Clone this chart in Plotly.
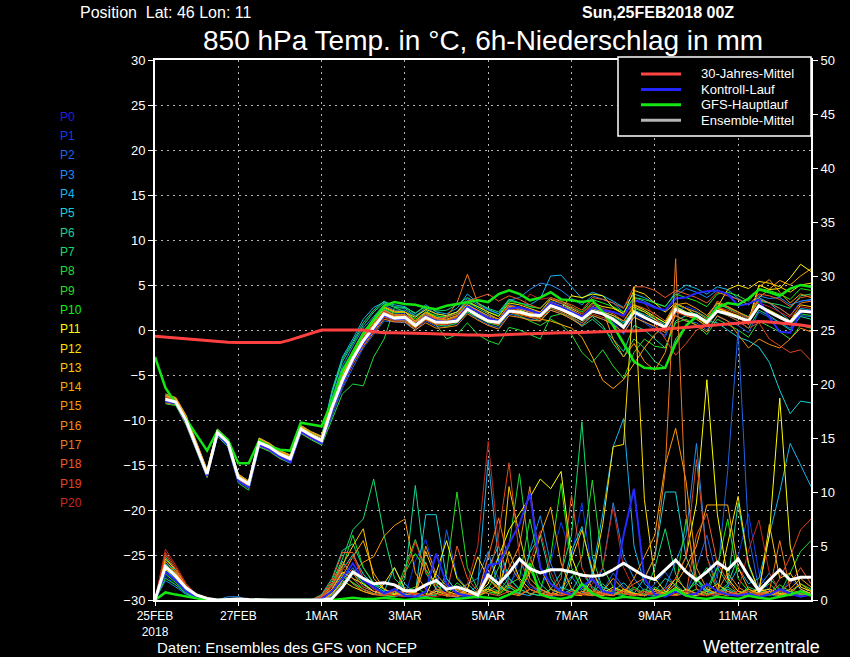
import plotly.graph_objects as go

# 6-hourly forecast steps from 25FEB2018 00Z (hours)
HOURS = list(range(0, 379, 6))

DATE_TICKS = [0, 48, 96, 144, 192, 240, 288, 336]
DATE_LABELS = ["25FEB<br>2018", "27FEB", "1MAR", "3MAR", "5MAR", "7MAR", "9MAR", "11MAR"]

### 850 hPa temperature (degC)

# 30-year climate mean, from +0h
CLIMATE_T = [-0.7, -0.8, -0.9, -1.0, -1.1, -1.2, -1.3, -1.35, -1.4, -1.4, -1.4, -1.4, -1.4, -1.1, -0.75, -0.35,
             0.0, 0.0, 0.0, 0.0, 0.0, -0.2, -0.3, -0.3, -0.3, -0.35, -0.4, -0.45, -0.5, -0.5, -0.55, -0.55,
             -0.6, -0.55, -0.5, -0.45, -0.4, -0.4, -0.35, -0.3, -0.3, -0.25, -0.2, -0.2, -0.15, -0.1, -0.1, -0.05,
             0.0, 0.1, 0.2, 0.3, 0.4, 0.5, 0.6, 0.7, 0.8, 0.9, 0.95, 0.9, 0.8, 0.7, 0.55, 0.4]

# operational GFS run, from +0h
GFS_T = [-3.0, -6.4, -8.2, -9.9, -11.6, -13.4, -11.2, -12.2, -14.8, -14.8, -12.3, -12.9, -13.3, -13.4, -10.3, -10.5,
         -10.7, -7.9, -4.5, -2.5, -0.4, 1.2, 2.7, 3.1, 2.9, 2.8, 2.5, 2.3, 2.7, 2.9, 3.1, 3.3,
         3.1, 4.0, 4.4, 4.0, 3.3, 3.6, 4.2, 3.4, 3.3, 3.1, 3.3, 2.0, 0.5, -1.5, -3.5, -4.2,
         -4.3, -4.2, -1.5, 0.5, 1.5, 1.0, 2.5, 3.0, 2.8, 3.5, 4.5, 4.2, 3.8, 4.6, 5.0, 4.8]

# ensemble members and mean, from +6h
MEAN_T = [-7.7, -8.0, -10.1, -13.0, -16.0, -11.4, -12.5, -16.4, -17.1, -12.5, -13.0, -13.8, -14.3, -11.0, -11.7, -12.3,
          -8.6, -5.6, -3.2, -1.2, 0.3, 1.8, 1.3,
          1.4, 0.5, 1.4, 0.85, 0.85, 1.0, 2.3, 1.6, 1.0, 0.85,
          2.1, 2.0, 1.7, 1.6, 2.7, 2.3, 1.8, 1.2, 2.1, 1.8,
          1.2, 0.3, 2.0, 1.4, 0.85, 0.3, 2.3, 1.8, 1.6, 0.85,
          2.1, 1.8, 1.4, 1.0, 2.7, 2.0, 1.4, 0.85, 2.1, 2.0]

T_P0 = [-7.9, -8.2, -10.3, -13.2, -16.2, -11.6, -12.8, -16.8, -17.5, -12.8, -13.3, -14.1, -14.7, -11.3, -12.0, -12.6,
        -9.0, -6.0, -3.5, -1.5, 0.0, 1.6, 1.2,
        1.2, 0.6, 1.5, 1.0, 0.9, 1.2, 2.6, 2.0, 1.3, 1.0,
        2.4, 2.5, 2.2, 1.8, 3.0, 2.6, 2.0, 1.5, 2.5, 2.2,
        2.0, 1.6, 3.3, 3.0, 2.5, 2.2, 3.5, 3.6, 4.1, 4.3,
        4.4, 4.0, 2.7, 2.9, 3.4, 1.4, -0.2, -0.3, 2.0, 2.1]
T_P1 = [-7.5, -7.8, -9.9, -12.8, -15.7, -11.2, -12.3, -16.2, -17.0, -12.2, -12.8, -13.6, -14.1, -10.8, -11.5, -12.0,
        -8.3, -5.2, -2.8, -0.8, 0.8, 2.3, 1.8,
        1.8, 0.9, 2.0, 1.5, 1.2, 1.6, 3.0, 2.2, 1.5, 1.0,
        2.8, 2.6, 2.0, 1.7, 3.2, 2.9, 2.3, 1.5, 2.8, 2.4,
        1.0, -0.5, 1.8, 1.0, 0.2, -0.8, 2.0, 2.6, 2.2, 1.3,
        3.0, 2.5, 2.0, 1.2, 3.5, 3.0, 2.4, 1.6, 3.2, 3.3]
T_P2 = [-8.0, -8.1, -10.4, -13.3, -16.3, -11.7, -12.9, -16.7, -17.3, -12.9, -13.4, -14.2, -14.6, -11.4, -12.1, -12.7,
        -9.5, -6.5, -4.2, -2.0, -0.5, 1.0, 0.9,
        0.8, 0.0, 1.0, 0.4, 0.5, 0.7, 2.0, 1.2, 0.6, 0.3,
        1.8, 1.5, 1.2, 1.0, 2.2, 1.8, 1.3, 0.6, 1.6, 1.2,
        0.8, -0.4, 1.5, 0.8, 0.0, -0.6, 1.6, 1.0, 0.8, 0.0,
        1.5, 1.0, 0.5, -0.3, 2.0, 1.4, 0.8, 0.2, 1.6, 1.5]
T_P3 = [-7.4, -7.9, -9.8, -12.7, -15.8, -11.3, -12.4, -16.5, -17.2, -12.6, -13.1, -13.9, -14.4, -11.2, -11.9, -12.4,
        -7.5, -4.0, -1.8, 0.2, 1.5, 2.8, 2.2,
        2.2, 1.5, 2.5, 1.8, 1.6, 2.0, 3.5, 2.8, 2.2, 1.8,
        3.3, 3.6, 4.5, 5.2, 5.0, 4.4, 3.5, 2.8, 3.8, 3.4,
        3.0, 2.0, 3.6, 3.2, 2.6, 2.0, 3.8, 4.6, 4.2, 3.6,
        4.4, 4.0, 3.4, 2.8, 3.8, 3.5, 3.6, 2.8, 3.2, 3.4]
T_P4 = [-7.2, -7.6, -9.6, -12.5, -15.5, -11.0, -12.2, -16.0, -16.8, -12.0, -12.6, -13.4, -13.9, -10.6, -11.3, -11.8,
        -6.7, -3.0, -1.0, 1.2, 2.5, 3.1, 2.8,
        2.6, 1.8, 2.8, 2.0, 1.8, 2.4, 4.0, 3.0, 2.3, 1.8,
        3.4, 3.0, 2.8, 3.5, 6.0, 6.1, 4.8, 3.5, 4.2, 3.8,
        3.2, 2.5, 4.0, 3.6, 3.0, 2.6, 4.2, 5.0, 4.6, 4.0,
        4.8, 4.5, 3.5, 2.8, 3.6, 3.0, 2.0, 1.0, 2.4, 2.2]
T_P5 = [-7.8, -8.0, -10.2, -13.1, -16.1, -11.5, -12.6, -16.6, -17.4, -12.7, -13.2, -14.0, -14.5, -11.1, -11.8, -12.5,
        -8.0, -4.8, -2.5, -0.3, 1.0, 2.3, 1.6,
        1.6, 0.8, 1.8, 1.2, 1.0, 1.4, 2.8, 2.0, 1.4, 1.0,
        2.5, 2.3, 2.0, 1.9, 3.0, 2.5, 2.1, 1.5, 2.4, 2.0,
        1.6, 0.8, 2.2, 1.7, 1.2, 0.6, 2.6, 2.0, 1.8, 1.0,
        0.8, 0.0, -0.8, -1.2, -1.9, -3.6, -6.7, -9.3, -7.9, -8.1]
T_P6 = [-7.6, -7.9, -10.0, -12.9, -15.9, -11.3, -12.4, -16.3, -17.0, -12.4, -12.9, -13.7, -14.2, -10.9, -11.6, -12.2,
        -7.0, -3.5, -1.5, 0.5, 2.0, 3.0, 2.5,
        2.4, 1.6, 2.2, 1.4, 1.5, 2.0, 3.2, 2.4, 1.8, 1.2,
        2.6, 2.2, 1.5, 1.0, 2.4, 2.0, 1.4, 0.4, 1.2, 0.2,
        -1.0, -2.4, 0.5, 0.0, -1.0, -2.0, 1.0, 1.6, 1.2, 0.4,
        2.0, 1.6, 1.0, 0.2, 2.2, 1.6, 0.8, 0.0, 1.5, 1.2]
T_P7 = [-7.3, -7.7, -9.7, -12.6, -15.6, -11.1, -12.3, -16.1, -16.9, -12.1, -12.7, -13.5, -14.0, -10.7, -11.4, -11.9,
        -6.9, -3.2, -1.3, 0.8, 2.2, 3.2, 2.6,
        2.5, 1.9, 2.6, 2.1, 2.2, 2.8, 3.6, 3.0, 2.4, 2.0,
        3.4, 3.0, 2.6, 2.4, 3.6, 3.0, 2.2, 1.0, 1.5, 0.5,
        -1.5, -3.0, -1.0, -2.0, -3.5, -4.2, -1.0, 0.5, 1.5, 1.0,
        2.8, 2.5, 2.0, 1.5, 3.2, 3.0, 2.8, 2.4, 3.8, 4.0]
T_P8 = [-8.2, -8.4, -10.6, -13.4, -16.4, -11.8, -13.0, -17.0, -17.8, -13.0, -13.5, -14.3, -14.8, -11.5, -12.2, -12.8,
        -10.0, -7.1, -6.0, -6.2, -3.0, -1.0, 2.5,
        2.0, 1.0, 1.5, 0.6, -1.0, -0.5, 0.8, -0.5, -1.2, -1.6,
        0.3, 0.0, -0.5, -1.0, 1.5, 1.8, 1.5, 0.8, 2.0, 1.8,
        1.4, 0.6, 2.4, 2.0, 1.4, 0.8, 2.8, 2.4, 2.0, 1.4,
        3.0, 2.4, 1.8, 1.2, 2.8, 2.2, 1.6, 0.6, 1.8, 1.6]
T_P9 = [-7.7, -8.0, -10.1, -13.0, -16.0, -11.4, -12.6, -16.5, -17.2, -12.6, -13.1, -13.9, -14.4, -11.1, -11.8, -12.4,
        -8.8, -5.8, -3.4, -1.4, 0.2, 1.7, 1.2,
        1.0, 0.2, 1.2, 0.6, 0.4, 0.8, 2.0, 1.4, 0.8, 0.5,
        2.0, 1.6, 1.0, 0.5, 1.2, 0.6, -0.5, -2.5, -3.6, -2.2,
        -4.0, -5.4, -2.5, -1.0, -1.8, -2.0, 0.8, 1.2, 0.5, -0.5,
        1.2, 0.6, 0.0, -0.8, 1.0, 0.4, -0.2, -1.0, 0.5, 0.2]
T_P10 = [-7.5, -7.8, -9.9, -12.8, -15.8, -11.2, -12.4, -16.2, -17.0, -12.3, -12.9, -13.7, -14.2, -10.8, -11.5, -12.1,
         -8.2, -5.0, -2.7, -0.6, 0.9, 2.4, 1.9,
         2.0, 1.2, 2.0, 1.6, 1.4, 1.8, 3.0, 2.6, 2.0, 1.6,
         3.2, 3.0, 2.6, 2.4, 3.6, 3.2, 2.6, 2.0, 3.4, 3.0,
         2.6, 2.0, 3.6, 3.4, 3.0, 2.6, 4.0, 3.6, 3.2, 2.6,
         4.0, 4.2, 3.8, 3.2, 4.6, 4.4, 4.0, 3.4, 4.6, 4.4]
T_P11 = [-7.6, -7.9, -10.0, -12.9, -16.0, -11.4, -12.5, -16.5, -17.3, -12.5, -13.0, -13.8, -14.3, -11.0, -11.7, -12.3,
         -8.5, -5.4, -3.0, -1.0, 0.6, 2.0, 1.5,
         1.5, 0.8, 1.6, 1.0, 1.0, 1.3, 2.6, 1.8, 1.2, 0.8,
         2.4, 2.2, 1.8, 1.6, 2.8, 2.4, 3.8, 3.6, 4.0, 3.8,
         2.5, 1.8, 2.8, 2.2, 1.5, 0.8, 2.6, 2.0, 1.6, 0.8,
         2.4, 2.0, 1.6, 1.0, 5.0, 4.5, 4.6, 5.8, 7.3, 6.5]
T_P12 = [-7.4, -7.7, -9.8, -12.7, -15.7, -11.1, -12.3, -16.2, -17.0, -12.2, -12.8, -13.6, -14.1, -10.8, -11.5, -12.1,
         -8.0, -4.9, -2.6, -0.5, 1.0, 2.5, 2.0,
         2.0, 1.4, 2.3, 1.8, 1.6, 2.0, 3.2, 2.6, 2.0, 1.5,
         3.0, 2.8, 2.4, 2.0, 3.4, 3.0, 2.4, 1.8, 3.0, 2.6,
         2.4, 1.8, 4.4, 4.0, 3.0, 2.0, 3.0, 2.4, 1.6, 0.6,
         2.5, 4.5, 5.0, 4.6, 5.4, 5.2, 4.8, 4.2, 5.0, 5.2]
T_P13 = [-7.9, -8.2, -10.2, -13.1, -16.1, -11.6, -12.7, -16.7, -17.4, -12.7, -13.2, -14.0, -14.5, -11.2, -11.9, -12.5,
         -8.9, -5.9, -3.6, -1.6, 0.0, 1.5, 1.1,
         1.1, 0.3, 1.2, 0.6, 0.7, 1.0, 2.4, 1.6, 1.0, 0.6,
         2.0, 1.8, 1.5, 1.4, 2.6, 2.2, 1.6, 1.2, 2.4, 2.0,
         1.6, 1.0, 2.6, 2.0, 1.2, 0.4, 2.2, 1.6, 1.4, 0.6,
         2.4, 2.0, 1.5, 0.8, 2.6, 2.2, 1.6, 1.0, 2.8, 2.6]
T_P14 = [-7.1, -7.5, -9.5, -12.4, -15.5, -11.0, -12.1, -16.0, -16.8, -12.0, -12.6, -13.4, -13.9, -10.6, -11.3, -11.8,
         -7.8, -4.6, -2.3, -0.2, 1.2, 2.6, 2.1,
         2.0, 1.0, 2.0, 1.4, 1.2, 1.6, 2.8, 2.2, 1.6, 1.2,
         2.6, 2.4, 2.0, 1.2, 1.0, 0.6, 0.2, -0.8, -3.0, -5.6,
         -6.5, -5.5, -3.8, -2.0, -0.5, 0.5, 2.8, 3.0, 2.4, 1.6,
         3.0, 2.6, 2.0, 1.4, 3.6, 4.5, 5.5, 5.0, 6.0, 6.8]
T_P15 = [-7.3, -7.6, -9.6, -12.5, -15.6, -11.1, -12.2, -16.1, -16.9, -12.1, -12.7, -13.5, -14.0, -10.7, -11.4, -11.9,
         -8.1, -5.1, -2.8, -0.7, 0.8, 2.2, 1.7,
         1.7, 1.0, 1.9, 1.3, 1.1, 1.5, 2.8, 2.1, 1.4, 1.0,
         2.6, 2.4, 2.2, 2.0, 3.1, 2.7, 2.2, 1.6, 2.6, 2.2,
         -1.0, -3.0, -1.5, -3.5, -4.5, -2.5, 2.0, 1.6, 1.2, 0.4,
         2.6, 2.0, 1.4, 0.6, 4.8, 5.6, 4.2, 3.0, 4.0, 3.6]
T_P16 = [-8.1, -8.3, -10.5, -13.3, -16.3, -11.7, -12.8, -16.8, -17.6, -12.9, -13.4, -14.2, -14.7, -11.4, -12.1, -12.7,
         -9.2, -6.2, -3.8, -1.8, -0.3, 1.2, 0.9,
         0.9, 0.0, 0.8, 0.2, 0.3, 0.5, 1.8, 1.1, 0.5, 0.1,
         1.6, 1.4, 1.1, 1.0, 2.2, 1.8, 1.2, 0.5, 1.6, 1.2,
         0.6, -0.3, 1.4, 0.9, 0.4, -0.3, 1.6, 1.0, 0.6, -0.2,
         1.6, 1.0, -0.5, -2.0, -1.0, -1.6, -2.0, -1.0, 0.2, -0.2]
T_P17 = [-7.6, -8.0, -10.0, -13.0, -16.1, -11.5, -12.6, -16.6, -17.3, -12.6, -13.1, -13.9, -14.4, -11.1, -11.8, -12.4,
         -8.7, -5.7, -3.3, -1.3, 0.4, 2.0, 1.4,
         1.3, 0.6, 1.4, 1.0, 1.5, 3.0, 6.2, 3.0, 1.8, 1.2,
         2.8, 2.4, 2.0, 1.8, 2.8, 2.4, 2.0, 1.4, 2.6, 2.2,
         1.8, 1.0, 2.8, 2.4, 1.8, 1.0, 3.0, 2.4, 2.0, 1.2,
         3.2, 2.6, 2.0, 1.4, 3.4, 3.0, 2.4, 1.6, 3.0, 3.2]
T_P18 = [-7.4, -7.8, -9.8, -12.8, -15.8, -11.3, -12.4, -16.4, -17.1, -12.4, -12.9, -13.7, -14.2, -10.9, -11.6, -12.2,
         -8.4, -5.3, -3.0, -0.9, 0.7, 2.1, 1.6,
         1.6, 0.9, 1.7, 1.2, 1.4, 1.8, 3.2, 3.6, 4.0, 3.2,
         3.8, 3.4, 2.8, 2.4, 3.6, 3.2, 2.8, 2.2, 3.6, 3.4,
         3.0, 2.4, 4.8, 4.8, 4.4, 3.6, 4.4, 4.0, 3.6, 3.0,
         4.2, 3.8, 3.4, 2.8, 4.0, 3.8, 3.4, 2.6, 3.6, 3.8]
T_P19 = [-7.8, -8.1, -10.2, -13.1, -16.2, -11.6, -12.7, -16.6, -17.3, -12.7, -13.2, -14.0, -14.5, -11.2, -11.9, -12.5,
         -9.0, -6.1, -3.7, -1.7, -0.1, 1.4, 1.0,
         1.0, 0.2, 1.1, 0.6, 0.6, 0.9, 2.2, 1.5, 0.9, 0.6,
         2.0, 1.7, 1.4, 1.2, 2.4, 2.0, 1.4, 0.8, 1.8, 1.4,
         1.0, 0.4, 2.0, 1.5, 0.8, -1.0, -2.8, -1.5, 0.0, 0.5,
         2.2, 1.6, 1.0, 0.2, 0.8, -1.0, -1.8, -2.5, -2.2, -3.4]
T_P20 = [-7.5, -7.9, -9.9, -12.9, -15.9, -11.4, -12.5, -16.3, -17.0, -12.3, -12.9, -13.7, -14.2, -10.9, -11.6, -12.2,
         -8.6, -5.5, -3.1, -1.1, 0.5, 2.0, 1.4,
         1.4, 0.7, 1.5, 1.1, 1.0, 1.4, 2.7, 2.0, 1.4, 1.0,
         2.4, 2.2, 4.0, 3.4, 3.6, 3.0, 2.6, 1.8, 2.8, 2.4,
         2.0, 1.4, 3.4, 3.0, 1.5, 0.0, 2.0, 1.6, 1.4, 1.0,
         2.6, 2.2, 1.8, 1.2, 3.0, 2.6, 2.0, 1.4, 2.6, 2.4]

### 6h precipitation (mm), from +0h

GFS_R = [0, 0.7, 0.5, 0.3, 0.15, 0, 0, 0, 0, 0, 0, 0, 0, 0, 0, 0,
         0, 0, 0.1, 0.2, 0.1, 0.1, 0.2, 0.1, 0.0, 0.1, 0.2, 0.1, 0.0, 0.1, 0.2, 0.3,
         0.2, 0.1, 0.5, 1.0, 3.4, 0.5, 0.2, 0.1, 0.3, 1.5, 0.6, 0.2, 0.1, 0.3, 0.2, 0.1,
         0.2, 0.5, 1.0, 0.4, 0.2, 0.1, 0.3, 0.2, 0.1, 0.4, 0.2, 0.1, 0.3, 0.5, 0.8, 0.4]
MEAN_R = [0, 3.1, 2.2, 1.1, 0.46, 0.15, 0, 0.05, 0.1, 0.05, 0, 0, 0, 0, 0, 0,
          0.0, 0.15, 1.2, 2.6, 2.0, 1.5, 1.6, 1.4, 0.86, 0.86, 1.4, 1.8, 1.0, 1.2, 0.9, 0.46,
          2.3, 1.5, 2.5, 3.8, 2.9, 2.5, 2.8, 2.8, 2.6, 2.3, 2.2, 2.3, 2.8, 3.4, 2.8, 2.2,
          1.9, 2.8, 3.7, 2.6, 1.85, 2.6, 3.5, 2.8, 3.8, 2.2, 0.86, 1.85, 2.8, 1.85, 2.1, 2.1]

R_P0 = [0, 2.6, 1.8, 0.8, 0.3, 0.1, 0, 0, 0, 0, 0, 0, 0, 0, 0, 0,
        0.1, 0.8, 2.0, 3.4, 1.8, 1.2, 0.6, 1.0, 0.4, 0.3, 0.8, 4.3, 1.5, 0.6, 0.4, 0.2,
        3.2, 3.4, 5.2, 7.0, 9.9, 3.0, 1.5, 0.8, 0.5, 1.2, 2.0, 0.8, 0.6, 6.0, 10.3, 2.0,
        0.5, 0.3, 0.8, 0.4, 0.6, 1.5, 0.8, 0.5, 0.4, 0.6, 0.3, 0.5, 1.0, 0.6, 0.3, 0.5]
R_P1 = [0, 2.2, 1.4, 0.6, 0.2, 0.1, 0, 0, 0, 0, 0, 0, 0, 0, 0, 0,
        0.0, 0.5, 1.5, 2.8, 2.0, 1.0, 0.8, 0.5, 0.3, 3.6, 5.6, 2.2, 0.5, 0.2, 0.4, 0.8,
        2.5, 4.0, 1.5, 2.8, 1.2, 0.8, 3.5, 7.2, 4.0, 9.0, 2.5, 1.0, 0.6, 0.4, 1.0, 0.5,
        0.3, 0.8, 2.0, 1.0, 0.4, 0.6, 0.3, 1.4, 4.0, 8.0, 2.5, 0.8, 0.3, 2.0, 1.0, 0.5]
R_P2 = [0, 3.0, 2.0, 0.9, 0.3, 0.1, 0, 0, 0, 0, 0, 0, 0, 0, 0, 0,
        0.2, 1.0, 2.4, 1.6, 1.0, 0.6, 0.4, 0.3, 1.2, 0.5, 0.3, 0.8, 6.5, 2.2, 1.0, 0.4,
        4.2, 2.0, 1.0, 3.8, 1.5, 0.6, 0.3, 0.5, 1.0, 0.6, 1.8, 0.8, 2.5, 1.2, 0.6, 0.4,
        1.5, 2.6, 1.2, 0.6, 3.0, 6.0, 2.0, 12.0, 25.0, 6.0, 1.0, 0.5, 0.3, 0.8, 0.5, 0.4]
R_P3 = [0, 1.8, 1.2, 0.5, 0.2, 0, 0, 0.3, 0.3, 0, 0, 0, 0, 0, 0, 0,
        0.0, 0.4, 1.8, 3.0, 1.4, 0.8, 0.5, 0.3, 0.6, 0.4, 0.2, 1.0, 0.4, 0.3, 1.5, 2.0,
        4.5, 1.2, 0.8, 0.5, 4.6, 7.8, 3.4, 1.0, 2.2, 0.8, 0.5, 3.0, 9.0, 4.0, 2.0, 0.8,
        0.5, 1.2, 3.5, 6.0, 14.5, 4.0, 1.5, 0.6, 0.8, 0.5, 1.2, 2.5, 0.8, 0.4, 0.6, 1.0]
R_P4 = [0, 2.8, 1.9, 0.8, 0.3, 0.1, 0, 0, 0, 0, 0, 0, 0, 0, 0, 0,
        0.3, 1.2, 3.6, 2.0, 1.0, 0.6, 0.4, 0.8, 1.5, 0.6, 0.3, 0.5, 2.0, 0.8, 0.5, 1.4,
        13.0, 3.5, 1.2, 0.6, 0.4, 1.0, 0.5, 1.2, 0.8, 0.5, 2.5, 8.0, 14.2, 16.8, 5.0, 1.5,
        0.6, 0.4, 1.0, 0.6, 2.0, 0.8, 0.5, 1.2, 3.0, 1.5, 2.0, 6.0, 10.0, 14.5, 12.5, 10.5]
R_P5 = [0, 3.4, 2.2, 1.0, 0.4, 0.1, 0, 0, 0, 0, 0, 0, 0, 0, 0, 0,
        0.2, 1.0, 2.8, 4.2, 2.4, 1.4, 0.8, 3.0, 1.0, 0.6, 7.9, 7.9, 2.0, 0.8, 1.5, 0.6,
        3.0, 5.0, 2.0, 1.0, 0.6, 0.4, 1.0, 0.6, 4.5, 6.8, 2.4, 1.2, 0.8, 1.6, 0.6, 2.0,
        4.0, 10.0, 10.0, 4.0, 1.5, 0.8, 0.6, 1.0, 0.5, 0.3, 0.8, 1.0, 0.6, 0.4, 0.8, 0.6]
R_P6 = [0, 4.0, 2.6, 1.2, 0.4, 0.1, 0, 0, 0, 0, 0, 0, 0, 0, 0, 0,
        0.5, 2.0, 4.6, 5.2, 3.0, 1.5, 1.0, 0.6, 2.0, 10.6, 2.5, 1.0, 0.6, 0.4, 1.0, 0.5,
        2.0, 1.2, 0.8, 0.6, 4.4, 6.0, 2.0, 0.5, 0.8, 2.5, 1.2, 0.6, 0.4, 1.0, 0.6, 0.4,
        0.8, 2.0, 1.4, 0.6, 0.4, 1.0, 3.0, 1.5, 9.0, 3.2, 0.8, 0.5, 1.0, 0.8, 0.5, 0.4]
R_P7 = [0, 3.6, 2.4, 1.0, 0.3, 0.1, 0, 0, 0, 0, 0, 0, 0, 0, 0, 0,
        0.4, 1.6, 3.8, 6.5, 7.5, 11.2, 6.0, 2.0, 1.0, 0.6, 0.4, 1.0, 0.6, 0.4, 0.8, 0.5,
        1.2, 0.8, 2.0, 1.0, 0.6, 0.4, 1.0, 2.5, 6.0, 16.5, 4.0, 1.0, 0.6, 0.8, 0.5, 0.4,
        3.0, 6.6, 2.4, 0.8, 1.6, 3.0, 1.0, 0.6, 0.4, 1.2, 0.8, 2.0, 1.0, 0.5, 0.8, 0.6]
R_P8 = [0, 2.0, 1.4, 0.6, 0.2, 0, 0, 0, 0, 0, 0, 0, 0, 0, 0, 0,
        0.1, 0.6, 1.6, 2.4, 1.6, 0.8, 0.5, 0.4, 3.0, 5.6, 2.8, 1.5, 0.4, 1.6, 0.8, 0.3,
        1.0, 3.0, 5.0, 11.7, 4.0, 1.5, 0.6, 0.4, 1.0, 0.5, 0.8, 1.5, 0.6, 0.4, 1.0, 0.5,
        1.2, 0.6, 0.8, 0.5, 2.0, 1.0, 0.6, 1.5, 4.0, 2.0, 0.8, 1.5, 0.6, 2.5, 4.5, 5.5]
R_P9 = [0, 3.2, 2.0, 0.9, 0.3, 0.1, 0, 0, 0, 0, 0, 0, 0, 0, 0, 0,
        0.3, 1.2, 3.0, 6.0, 3.0, 1.6, 1.0, 0.5, 0.8, 1.2, 0.6, 0.4, 2.5, 10.0, 3.0, 1.0,
        0.6, 0.8, 1.5, 2.0, 7.5, 3.0, 1.0, 0.6, 2.0, 4.0, 11.1, 3.0, 1.2, 0.6, 0.4, 1.0,
        0.6, 0.4, 1.0, 7.5, 2.0, 0.5, 0.8, 1.2, 0.6, 0.4, 1.0, 0.6, 1.4, 0.8, 0.5, 0.6]
R_P10 = [0, 2.4, 1.6, 0.7, 0.2, 0.1, 0, 0, 0, 0, 0, 0, 0, 0, 0, 0,
         0.2, 0.8, 2.2, 1.6, 1.0, 0.6, 0.4, 0.3, 2.5, 4.3, 2.8, 1.5, 0.3, 0.6, 0.4, 0.3,
         0.8, 0.5, 1.2, 0.6, 2.8, 1.0, 4.0, 10.8, 3.0, 1.0, 0.6, 0.4, 0.8, 0.5, 1.2, 0.6,
         0.4, 0.8, 0.5, 0.6, 1.0, 0.5, 3.0, 7.5, 2.0, 0.8, 0.5, 0.4, 0.8, 0.6, 1.5, 1.0]
R_P11 = [0, 3.8, 2.8, 1.4, 0.5, 0.2, 0, 0, 0, 0, 0, 0, 0, 0, 0, 0,
         0.2, 1.0, 2.6, 2.0, 1.5, 0.8, 0.6, 0.5, 0.8, 0.6, 0.4, 2.5, 5.5, 2.0, 1.0, 0.6,
         1.5, 4.0, 6.5, 8.0, 9.5, 11.2, 10.3, 11.9, 4.0, 1.5, 0.8, 0.6, 1.2, 0.8, 0.6, 0.4,
         1.0, 0.6, 2.0, 4.0, 9.0, 20.4, 8.0, 2.0, 0.8, 0.6, 1.0, 6.0, 18.7, 5.0, 1.2, 0.8]
R_P12 = [0, 3.0, 2.4, 1.2, 0.4, 0.1, 0, 0, 0, 0, 0, 0, 0, 0, 0, 0,
         0.1, 0.6, 1.8, 1.2, 0.8, 0.5, 1.5, 3.0, 1.0, 0.6, 0.4, 0.8, 0.5, 0.4, 1.0, 4.0,
         2.0, 1.0, 4.5, 2.0, 1.0, 0.6, 0.4, 0.8, 0.5, 0.4, 2.0, 7.0, 14.2, 14.4, 29.0, 9.3,
         2.0, 0.8, 0.5, 1.0, 0.6, 0.4, 0.8, 5.2, 9.6, 3.4, 0.8, 1.0, 0.6, 0.5, 0.8, 0.6]
R_P13 = [0, 2.8, 2.2, 1.0, 0.4, 0.1, 0, 0, 0, 0, 0, 0, 0, 0, 0, 0,
         0.2, 1.4, 3.2, 5.0, 6.6, 2.0, 1.0, 0.6, 0.4, 0.8, 4.5, 2.0, 0.8, 0.5, 0.4, 0.8,
         1.0, 0.6, 10.5, 6.0, 2.0, 1.0, 0.6, 0.4, 3.8, 6.5, 2.8, 0.5, 0.4, 1.0, 0.6, 0.4,
         0.8, 0.5, 1.2, 0.6, 0.4, 0.8, 1.5, 0.8, 0.5, 1.0, 0.6, 7.0, 2.0, 2.5, 1.0, 0.6]
R_P14 = [0, 3.2, 2.5, 1.2, 0.4, 0.1, 0, 0, 0, 0, 0, 0, 0, 0, 0, 0,
         0.1, 0.8, 2.2, 4.0, 5.5, 2.5, 1.0, 0.6, 0.8, 0.5, 3.5, 1.0, 0.6, 0.4, 0.8, 0.5,
         1.0, 0.6, 1.4, 0.8, 2.5, 6.0, 8.6, 3.4, 1.0, 0.6, 0.4, 0.8, 2.0, 1.0, 0.6, 0.4,
         1.0, 0.6, 1.5, 3.0, 5.0, 8.8, 8.8, 8.8, 3.0, 1.0, 0.6, 0.8, 0.5, 1.0, 2.0, 1.2]
R_P15 = [0, 2.6, 1.8, 0.8, 0.3, 0.1, 0, 0, 0, 0, 0, 0, 0, 0, 0, 0,
         0.0, 0.5, 1.5, 2.5, 3.5, 4.0, 5.9, 6.9, 7.5, 2.5, 1.0, 0.6, 0.4, 1.0, 0.6, 0.4,
         0.8, 1.5, 0.6, 0.4, 1.0, 0.6, 0.4, 0.8, 0.5, 1.2, 0.6, 0.4, 1.0, 0.6, 2.0, 4.0,
         6.0, 12.5, 15.9, 11.0, 3.0, 1.0, 0.6, 0.4, 0.8, 0.5, 1.2, 0.6, 0.4, 0.8, 1.5, 0.8]
R_P16 = [0, 3.0, 2.0, 1.0, 0.3, 0.1, 0, 0, 0, 0, 0, 0, 0, 0, 0, 0,
         0.2, 1.0, 2.5, 1.5, 0.8, 0.5, 0.4, 0.8, 0.5, 0.3, 5.0, 2.4, 1.3, 0.8, 0.5, 0.4,
         2.0, 1.0, 3.0, 5.0, 10.5, 3.0, 1.0, 0.6, 0.4, 0.8, 0.5, 0.4, 1.0, 0.6, 0.4, 0.8,
         0.5, 1.0, 2.0, 1.0, 0.6, 0.4, 0.8, 2.5, 1.2, 0.6, 0.4, 0.8, 0.5, 0.4, 0.8, 0.6]
R_P17 = [0, 3.6, 2.6, 1.2, 0.4, 0.1, 0, 0, 0, 0, 0, 0, 0, 0, 0, 0,
         0.3, 1.4, 3.5, 2.5, 1.2, 0.8, 0.5, 0.4, 0.8, 0.5, 0.4, 0.6, 0.4, 0.3, 0.6, 0.5,
         4.0, 7.6, 3.4, 1.8, 0.5, 1.0, 0.6, 0.4, 0.8, 0.5, 0.4, 0.6, 0.5, 0.8, 1.5, 2.0,
         4.0, 12.0, 31.6, 8.0, 1.0, 0.6, 0.4, 0.8, 0.5, 0.4, 0.6, 0.8, 5.5, 1.0, 0.6, 0.4]
R_P18 = [0, 4.2, 2.8, 1.2, 0.4, 0.1, 0, 0, 0, 0, 0, 0, 0, 0, 0, 0,
         0.4, 1.8, 4.4, 4.4, 2.0, 1.0, 0.6, 0.4, 0.8, 0.5, 0.4, 1.0, 0.6, 5.0, 2.0, 0.8,
         0.6, 0.4, 0.8, 0.5, 1.0, 0.6, 0.4, 2.0, 9.7, 3.0, 1.0, 0.6, 0.4, 0.8, 0.5, 0.4,
         0.8, 0.5, 0.4, 0.6, 6.0, 8.0, 3.4, 1.8, 0.5, 0.4, 0.6, 0.5, 0.8, 1.5, 3.0, 1.5]
R_P19 = [0, 4.4, 3.0, 1.4, 0.5, 0.2, 0, 0, 0, 0, 0, 0, 0, 0, 0, 0,
         0.3, 1.5, 3.0, 2.0, 1.0, 0.6, 0.4, 0.8, 2.5, 5.4, 2.6, 1.4, 0.3, 0.6, 0.4, 0.3,
         2.0, 6.0, 12.7, 4.0, 1.5, 0.8, 0.5, 0.4, 0.6, 0.5, 0.8, 0.5, 1.0, 0.6, 0.4, 0.8,
         0.5, 1.0, 2.0, 4.0, 13.0, 4.0, 1.0, 0.6, 0.5, 0.8, 0.5, 0.4, 2.0, 4.0, 6.5, 7.5]
R_P20 = [0, 4.7, 3.2, 1.5, 0.5, 0.2, 0, 0, 0, 0, 0, 0, 0, 0, 0, 0,
         0.2, 1.2, 2.8, 4.0, 2.0, 1.0, 0.6, 0.4, 0.3, 0.6, 0.4, 0.3, 0.6, 0.4, 1.5, 5.0,
         14.7, 5.0, 1.5, 0.8, 3.5, 6.4, 2.6, 0.5, 0.8, 0.5, 1.5, 3.0, 8.6, 3.0, 1.0, 0.6,
         0.5, 0.4, 0.6, 0.8, 0.5, 0.4, 0.6, 0.5, 0.8, 4.6, 7.4, 2.5, 0.8, 0.6, 0.4, 0.5]

MEMBER_NAMES = ["P%d" % i for i in range(21)]
MEMBER_COLORS = ["#2020e0", "#0a3cf0", "#1e64e6", "#1e8cf0", "#14b4f0", "#14d2dc", "#14d296",
                 "#14dc6e", "#1edc3c", "#28dc28", "#14f014", "#ffff00", "#ffe100", "#ffc800",
                 "#ffaa00", "#ff9b00", "#f58c14", "#f0781e", "#f05a28", "#e1461e", "#c8281e"]

LEGEND_NAMES = ["30-Jahres-Mittel", "Kontroll-Lauf", "GFS-Hauptlauf", "Ensemble-Mittel"]
LEGEND_COLORS = ["#ff4444", "#2424ff", "#14e614", "#b4b4b4"]

TEMP = [T_P0, T_P1, T_P2, T_P3, T_P4, T_P5, T_P6, T_P7, T_P8, T_P9, T_P10,
        T_P11, T_P12, T_P13, T_P14, T_P15, T_P16, T_P17, T_P18, T_P19, T_P20]
RAIN = [R_P0, R_P1, R_P2, R_P3, R_P4, R_P5, R_P6, R_P7, R_P8, R_P9, R_P10,
        R_P11, R_P12, R_P13, R_P14, R_P15, R_P16, R_P17, R_P18, R_P19, R_P20]

for t in TEMP + [MEAN_T]:
    assert len(t) == len(HOURS) - 1, len(t)
for r in RAIN + [GFS_R, MEAN_R, GFS_T, CLIMATE_T]:
    assert len(r) == len(HOURS), len(r)

FONT = "Liberation Sans"
GRID = "#b4b4b4"

# pixel helpers for the fixed 850x657 frame (plot area 155..811 x 60..600)
def px(x):
    return (x - 155) / 656.0

def py(y):
    return (600 - y) / 540.0

fig = go.Figure()

# thin ensemble members (P0 is the control run, drawn thick below)
for i in range(1, 21):
    fig.add_trace(go.Scatter(x=HOURS[1:], y=TEMP[i], mode="lines", name=MEMBER_NAMES[i],
                             line=dict(color=MEMBER_COLORS[i], width=1), hoverinfo="skip"))
for i in range(1, 21):
    fig.add_trace(go.Scatter(x=HOURS, y=RAIN[i], mode="lines", name=MEMBER_NAMES[i], yaxis="y2",
                             line=dict(color=MEMBER_COLORS[i], width=1), hoverinfo="skip"))

fig.add_trace(go.Scatter(x=HOURS[1:], y=T_P0, mode="lines", line=dict(color="#2828ff", width=2)))
fig.add_trace(go.Scatter(x=HOURS, y=GFS_T, mode="lines", line=dict(color="#14e614", width=2.5)))
fig.add_trace(go.Scatter(x=HOURS[1:], y=MEAN_T, mode="lines", line=dict(color="white", width=3)))
fig.add_trace(go.Scatter(x=HOURS, y=CLIMATE_T, mode="lines", line=dict(color="#ff4040", width=3)))

fig.add_trace(go.Scatter(x=HOURS, y=R_P0, mode="lines", yaxis="y2", line=dict(color="#2828ff", width=2)))
fig.add_trace(go.Scatter(x=HOURS, y=GFS_R, mode="lines", yaxis="y2", line=dict(color="#14e614", width=2.5)))
fig.add_trace(go.Scatter(x=HOURS, y=MEAN_R, mode="lines", yaxis="y2", line=dict(color="white", width=3)))

# hand drawn legend box, as in the original
shapes = [dict(type="rect", xref="paper", yref="paper", x0=px(618), x1=px(811), y0=py(136), y1=py(57),
               line=dict(color="white", width=1.5), fillcolor="black", layer="above")]
annotations = []
for j, (name, col) in enumerate(zip(LEGEND_NAMES, LEGEND_COLORS)):
    yy = py(74 + j * 15.4)
    shapes.append(dict(type="line", xref="paper", yref="paper", x0=px(641), x1=px(681), y0=yy, y1=yy,
                       line=dict(color=col, width=3), layer="above"))
    annotations.append(dict(text=name, x=px(699), y=yy, xanchor="left", yanchor="middle",
                            font=dict(size=13, color="white")))

for i, name in enumerate(MEMBER_NAMES):
    annotations.append(dict(text=name, x=px(58), y=py(116.7 + i * 19.32), xanchor="left", yanchor="middle",
                            font=dict(size=12, color=MEMBER_COLORS[i])))

annotations += [
    dict(text="Position\u00a0\u00a0Lat: 46 Lon: 11", x=px(78), y=py(12), xanchor="left", yanchor="middle",
         font=dict(size=16, color="white")),
    dict(text="<b>Sun,25FEB2018 00Z</b>", x=px(580), y=py(12), xanchor="left", yanchor="middle",
         font=dict(size=16, color="white")),
    dict(text="850 hPa Temp. in °C, 6h-Niederschlag in mm", x=px(483), y=py(41), xanchor="center",
         yanchor="middle", font=dict(size=28, color="white")),
    dict(text="Daten: Ensembles des GFS von NCEP", x=px(155), y=py(647), xanchor="left", yanchor="middle",
         font=dict(size=15, color="white")),
    dict(text="Wetterzentrale", x=px(822), y=py(647), xanchor="right", yanchor="middle",
         font=dict(size=18, color="white")),
]
for a in annotations:
    a.update(xref="paper", yref="paper", showarrow=False)

fig.update_layout(
    width=850, height=657,
    margin=dict(l=155, r=39, t=60, b=57),
    paper_bgcolor="black", plot_bgcolor="black",
    showlegend=False,
    font=dict(family=FONT, color="white", size=12),
    xaxis=dict(range=[0, 378], tickvals=DATE_TICKS, ticktext=DATE_LABELS,
               showgrid=True, gridcolor=GRID, gridwidth=1, griddash="2px,4px",
               showline=True, linecolor="white", linewidth=2, mirror=True,
               ticks="outside", ticklen=4, tickcolor="white", zeroline=False,
               tickfont=dict(size=12)),
    yaxis=dict(range=[-30, 30], dtick=5, tick0=0,
               showgrid=True, gridcolor=GRID, gridwidth=1, griddash="2px,4px",
               showline=True, linecolor="white", linewidth=2,
               ticks="outside", ticklen=5, tickcolor="white", zeroline=False,
               tickfont=dict(size=13)),
    yaxis2=dict(range=[0, 50], dtick=5, tick0=0, overlaying="y", side="right",
                showgrid=False, showline=True, linecolor="white", linewidth=2,
                ticks="outside", ticklen=5, tickcolor="white", zeroline=False,
                tickfont=dict(size=13)),
    shapes=shapes,
    annotations=annotations,
)

fig.write_html("out.html", config={"displayModeBar": False},
               post_script="document.body.style.margin='0';")
